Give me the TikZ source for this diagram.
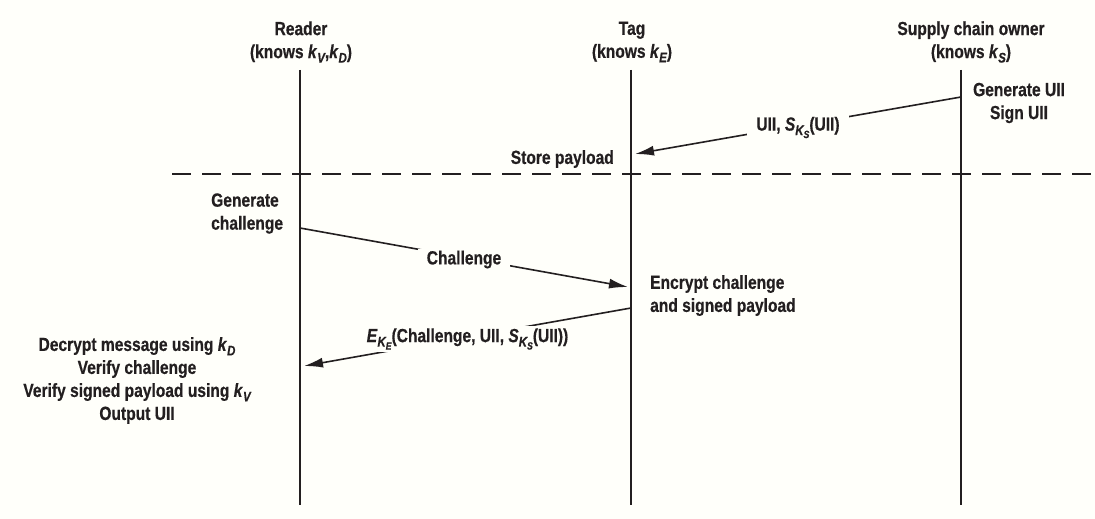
\documentclass[tikz,border=0pt]{standalone}
\usepackage{fontspec}
\setmainfont{Liberation Sans}[FakeStretch=0.82,BoldFeatures={FakeBold=0.5},BoldItalicFeatures={FakeBold=0.5}]
\usetikzlibrary{arrows.meta}
\definecolor{bg}{RGB}{255,255,250}
\definecolor{ink}{RGB}{35,31,32}
\newcommand{\mysub}[1]{\raisebox{-0.45ex}{\fontsize{14pt}{14pt}\selectfont\itshape #1}}
\newcommand{\mysubsub}[1]{\raisebox{-0.4ex}{\fontsize{10.5pt}{11pt}\selectfont\itshape #1}}
\newcommand{\kv}[1]{\textit{k}\mysub{#1}}
\newcommand{\SKs}{\textit{S}\raisebox{-0.45ex}{\fontsize{14pt}{14pt}\selectfont\itshape K\mysubsub{S}}}
\newcommand{\EKe}{\textit{E}\raisebox{-0.45ex}{\fontsize{14pt}{14pt}\selectfont\itshape K\mysubsub{E}}}
\begin{document}
\begin{tikzpicture}[x=1pt,y=-1pt,
  every node/.style={text=ink, font=\fontsize{19pt}{23pt}\selectfont\bfseries, inner sep=0pt},
  life/.style={draw=ink, line width=1.3pt},
  sep/.style={draw=ink, line width=1.3pt, dash pattern=on 19pt off 11pt},
  msg/.style={draw=ink, line width=1.6pt, -{Latex[length=19pt,width=10pt]}},
  lbl/.style={fill=bg, inner xsep=9pt, inner ysep=2pt}]
\fill[bg] (0,0) rectangle (1095,519);
\useasboundingbox (0,0) rectangle (1095,519);

% headers
\node[align=center] (hR) at (301,42) {Reader\\(knows \kv{V},\kv{D})};
\node[align=center] (hT) at (632,42) {Tag\\(knows \kv{E})};
\node[align=center] (hS) at (971,42) {Supply chain owner\\(knows \kv{S})};

% lifelines
\coordinate (rT) at (300,70); \coordinate (rB) at (300,505);
\coordinate (tT) at (631,70); \coordinate (tB) at (631,505);
\coordinate (sT) at (961,70); \coordinate (sB) at (961,505);
\draw[life] (rT) -- (rB);
\draw[life] (tT) -- (tB);
\draw[life] (sT) -- (sB);

% separator
\coordinate (dL) at (172,174); \coordinate (dR) at (1095,174);
\draw[sep] (dL) -- (dR);

% phase 1
\node[align=center] (gen) at (1019,103) {Generate UII\\Sign UII};
\node[anchor=east] (store) at (614,159) {Store payload};
\coordinate (m1s) at (961,97); \coordinate (m1e) at (635,154);
\draw[msg] (m1s) -- node[lbl, yshift=-2pt] (l1) {UII, \SKs(UII)} (m1e);

% phase 2
\node[anchor=west, align=left] (gch) at (211,213.5) {Generate\\challenge};
\coordinate (m2s) at (300,228); \coordinate (m2e) at (628,287);
\draw[msg] (m2s) -- node[lbl, yshift=-2pt] (l2) {Challenge} (m2e);
\node[anchor=west, align=left] (enc) at (650,295.5) {Encrypt challenge\\and signed payload};
\coordinate (m3s) at (631,308); \coordinate (m3e) at (304,366);
\draw[msg] (m3s) -- node[lbl, yshift=-2pt] (l3) {\EKe(Challenge, UII, \SKs(UII))} (m3e);
\node[align=center] (dec) at (137,380.5) {Decrypt message using \kv{D}\\Verify challenge\\Verify signed payload using \kv{V}\\Output UII};
\end{tikzpicture}
\end{document}
